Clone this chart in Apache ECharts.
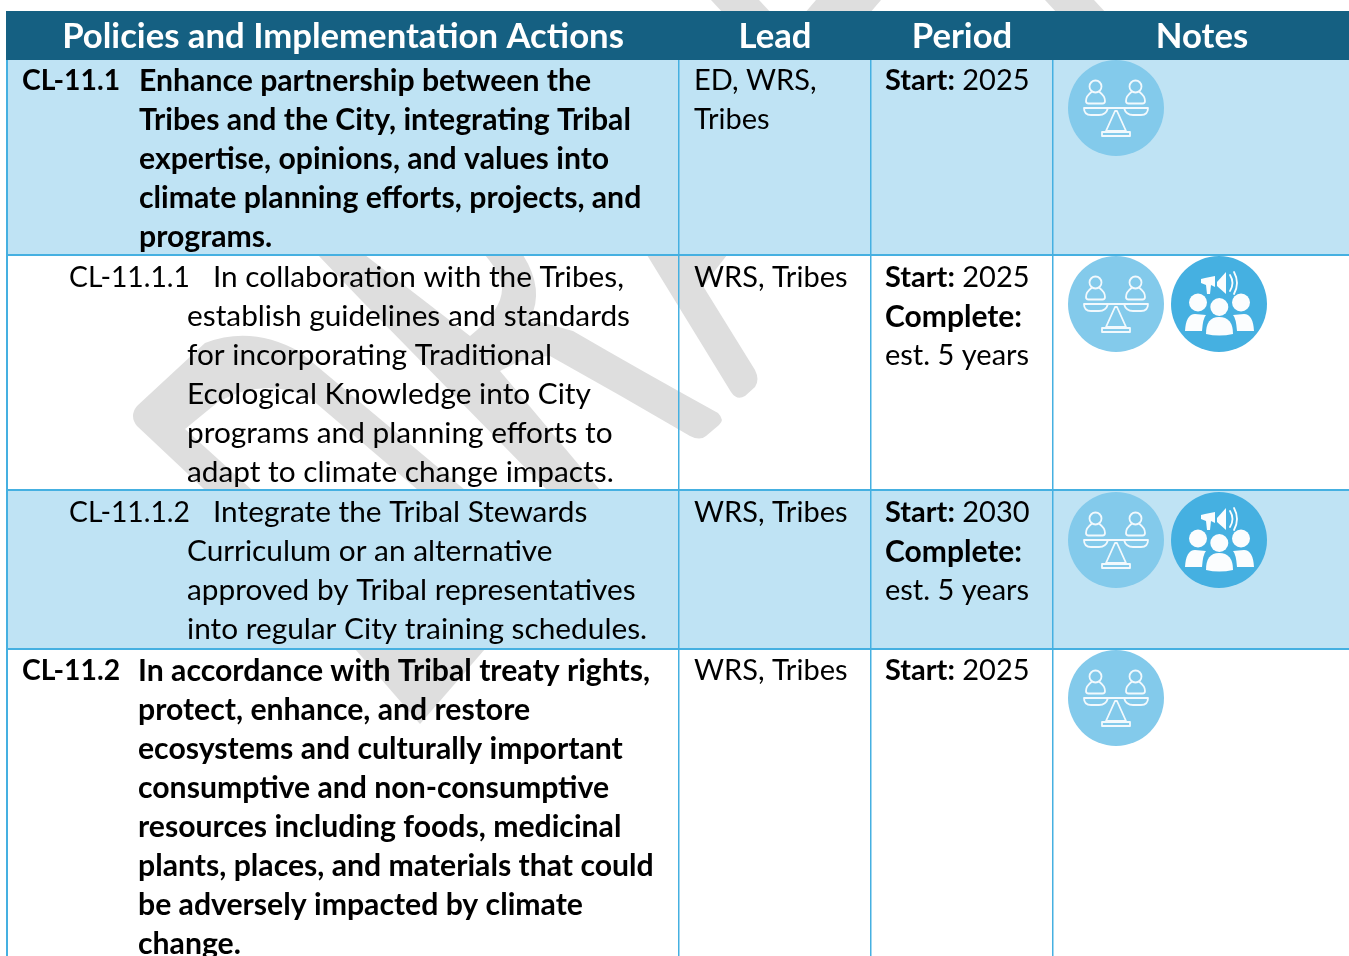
<!DOCTYPE html>
<html>
<head>
<meta charset="utf-8">
<title>Policies and Implementation Actions</title>
<style>
html,body{margin:0;padding:0;background:#fff;}
#main{width:1349px;height:956px;}
</style>
<script src="https://cdn.jsdelivr.net/npm/echarts@6/dist/echarts.min.js"></script>
</head>
<body>
<div id="main"></div>
<script>
// table contents
var headers=['Policies and Implementation Actions','Lead','Period','Notes'];
var ids=['CL-11.1','CL-11.1.1','CL-11.1.2','CL-11.2'];
var actions=[
	['Enhance partnership between the','Tribes and the City, integrating Tribal','expertise, opinions, and values into','climate planning efforts, projects, and','programs.'],
	['In collaboration with the Tribes,','establish guidelines and standards','for incorporating Traditional','Ecological Knowledge into City','programs and planning efforts to','adapt to climate change impacts.'],
	['Integrate the Tribal Stewards','Curriculum or an alternative','approved by Tribal representatives','into regular City training schedules.'],
	['In accordance with Tribal treaty rights,','protect, enhance, and restore','ecosystems and culturally important','consumptive and non-consumptive','resources including foods, medicinal','plants, places, and materials that could','be adversely impacted by climate','change.']
];
var leads=[['ED, WRS,','Tribes'],['WRS, Tribes'],['WRS, Tribes'],['WRS, Tribes']];
var periods=[
	['{b|Start:} 2025'],
	['{b|Start:} 2025','{c|Complete:}','est. 5 years'],
	['{b|Start:} 2030','{c|Complete:}','est. 5 years'],
	['{b|Start:} 2025']
];
var icons=[['equity'],['equity','crowd'],['equity','crowd'],['equity']];

// layout
var font='Lato';
var cellSize=29;
var actionSize=29.8;
var policySize=30.2;
var idSize=28.3;
var headSize=34.7;
var rowTop=[60,255,490,649,956];
var firstLine=[81,278,513,671];
var actionLine=[81,277,512,671];
var lineGap=39;
var colLines=[7,679,871,1053];
var headCenter=[343,775,962,1202];
var idX=[22,69,69,22];
var bodyX=[139,187,187,138];
var firstX=[139,213,213,138];
var isPolicy=[true,false,false,true];
var rowFill=['#bfe3f4','rgba(0,0,0,0)','#bfe3f4','rgba(0,0,0,0)'];
var iconY=[108,304,540,698];
var iconX=[1116,1219];

var dark='#000000';
var lineBlue='#45b0e1';
var g=[];

// DRAFT watermark, only the pieces that show through
var wm=[
	'M711 0 L759 0 L772 14 L724 14 Z',
	'M816 0 L881 0 L869 14 L804 14 Z',
	'M1045 0 L1094 0 L1107 14 L1058 14 Z',
	'M355 649 L485 649 L420 724 Z',
	'M137 406 L205 343 Q252 325 300 352 L465 490 L418 490 L310 398 Q265 376 218 402 L185 429 L252 490 L205 490 L137 426 Q129 416 137 406 Z',
	'M318 255 L365 255 L470 336 Q502 310 502 289 Q502 275 485 255 L523 255 Q545 290 530 319 L573 331 Q640 370 718 413 Q725 420 719 425 L706 436 Q700 441 690 436 Q620 395 550 356 Q525 356 500 371 L600 490 L547 490 L360 299 Z',
	'M647 255 L727 255 L703 286 L755 370 Q760 380 755 387 L745 396 Q737 401 731 392 Z'
];
for(var i=0;i<wm.length;i++){
	g.push({type:'path',shape:{pathData:wm[i]},style:{fill:'#dedede'}});
}

// rows
for(var i=0;i<4;i++){
	g.push({type:'rect',shape:{x:6,y:rowTop[i],width:1343,height:rowTop[i+1]-rowTop[i]},style:{fill:rowFill[i]}});
}
g.push({type:'rect',shape:{x:6,y:11,width:1343,height:49},style:{fill:'#156082'}});
for(var i=1;i<4;i++){
	g.push({type:'rect',shape:{x:6,y:rowTop[i]-1,width:1343,height:2},style:{fill:lineBlue}});
}
for(var i=0;i<colLines.length;i++){
	g.push({type:'rect',shape:{x:colLines[i]-1,y:60,width:i==0?2:1.5,height:896},style:{fill:lineBlue}});
}

function txt(x,y,s,size,weight,color,align){
	return {type:'text',x:x,y:y,style:{
		text:s,fontFamily:font,fontSize:size,fontWeight:weight,fill:color,align:align||'left',verticalAlign:'middle',
		rich:{
			b:{fontFamily:font,fontSize:size,fontWeight:'bold',fill:color},
			c:{fontFamily:font,fontSize:30,fontWeight:'bold',fill:color}
		}
	}};
}

for(var i=0;i<headers.length;i++){
	g.push(txt(headCenter[i],37,headers[i],headSize,'bold','#ffffff','center'));
}
for(var r=0;r<4;r++){
	var w=isPolicy[r]?'bold':'normal';
	var sz=isPolicy[r]?policySize:actionSize;
	g.push(txt(idX[r],firstLine[r],ids[r],idSize,w,dark));
	for(var k=0;k<actions[r].length;k++){
		g.push(txt(k==0?firstX[r]:bodyX[r],actionLine[r]+k*lineGap,actions[r][k],sz,w,dark));
	}
	for(var k=0;k<leads[r].length;k++){
		g.push(txt(694,firstLine[r]+k*lineGap,leads[r][k],cellSize,'normal',dark));
	}
	for(var k=0;k<periods[r].length;k++){
		g.push(txt(885,firstLine[r]+k*lineGap,periods[r][k],cellSize,'normal',dark));
	}
}

// note icons
function equityIcon(cx,cy){
	var ln={fill:'none',stroke:'#f2f9fd',lineWidth:1.8,lineJoin:'round',lineCap:'round'};
	var parts=[{type:'circle',shape:{cx:0,cy:0,r:48},style:{fill:'#83caeb'}}];
	var p=[-20.5,19.5];
	for(var i=0;i<2;i++){
		parts.push({type:'circle',shape:{cx:p[i],cy:-21.5,r:6},style:ln});
		parts.push({type:'path',shape:{pathData:'M'+(p[i]-4)+' -16 Q'+(p[i]-9.5)+' -12 '+(p[i]-9.5)+' -7 Q'+(p[i]-9.5)+' -4.5 '+(p[i]-7)+' -4.5 L'+(p[i]+7)+' -4.5 Q'+(p[i]+9.5)+' -4.5 '+(p[i]+9.5)+' -7 Q'+(p[i]+9.5)+' -12 '+(p[i]+4)+' -16'},style:ln});
	}
	parts.push({type:'path',shape:{pathData:'M-32 0 L-8 0 Q-10 7 -17 7 L-25 7 Q-32 7 -32 0 M32 0 L8 0 Q10 7 17 7 L25 7 Q32 7 32 0 M-8 0 L8 0'},style:ln});
	parts.push({type:'path',shape:{pathData:'M-1 3 L1 3 L10 23 L-10 23 Z M-14 24 L14 24 L14 28 L-14 28 Z'},style:ln});
	return {type:'group',x:cx,y:cy,children:parts};
}
function crowdIcon(cx,cy){
	var w={fill:'#fbfdfe'};
	var parts=[{type:'circle',shape:{cx:0,cy:0,r:48},style:{fill:'#45b0e1'}}];
	parts.push({type:'circle',shape:{cx:-21,cy:-1.5,r:9},style:w});
	parts.push({type:'circle',shape:{cx:0.3,cy:3,r:9},style:w});
	parts.push({type:'circle',shape:{cx:22,cy:-1.5,r:9},style:w});
	parts.push({type:'path',shape:{pathData:'M-13 30 Q-13 13 0 13 Q14 13 14 30 Q0 33 -13 30 Z'},style:w});
	parts.push({type:'path',shape:{pathData:'M-34 27 Q-33 10 -24 10 L-13 11 Q-16 14 -17 27 Z'},style:w});
	parts.push({type:'path',shape:{pathData:'M35 27 Q34 10 25 10 L14 11 Q17 14 18 27 Z'},style:w});
	parts.push({type:'path',shape:{pathData:'M-18 -25 L-14 -26 L-4 -28 L-4 -17 L-8 -19 L-9 -10 L-12 -10 L-13 -19 L-18 -21 Z'},style:w});
	parts.push({type:'path',shape:{pathData:'M-2 -22 L7 -32 L7 -10 L-2 -18 Z'},style:w});
	parts.push({type:'path',shape:{pathData:'M11 -29 Q16 -21 11 -13 M15 -32 Q21 -21 15 -10'},style:{fill:'none',stroke:'#fbfdfe',lineWidth:1.8,lineCap:'round'}});
	return {type:'group',x:cx,y:cy,children:parts};
}
for(var r=0;r<4;r++){
	g.push(equityIcon(iconX[0],iconY[r]));
	if(icons[r].length>1) g.push(crowdIcon(iconX[1],iconY[r]));
}

var myChart=echarts.init(document.getElementById('main'),null,{renderer:'canvas'});
myChart.setOption({
	animation:false,
	backgroundColor:'#ffffff',
	series:[{
		type:'custom',
		coordinateSystem:'none',
		silent:true,
		data:[0],
		renderItem:function(){
			return {type:'group',children:g};
		}
	}]
});
</script>
</body>
</html>
